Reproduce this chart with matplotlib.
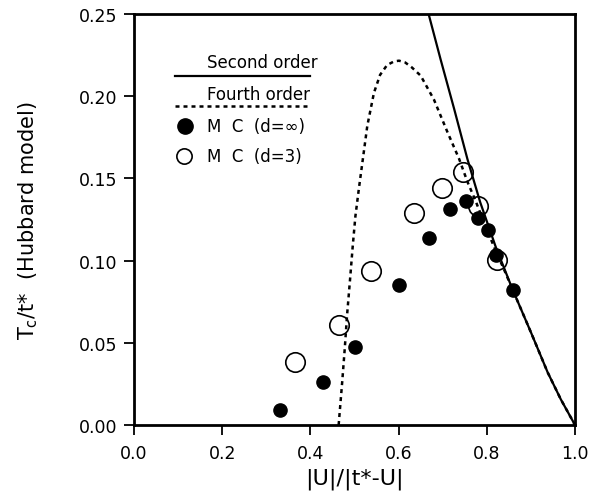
import numpy as np
import matplotlib.pyplot as plt
from matplotlib.lines import Line2D

# second order curve
x_second = [0.668, 0.695, 0.726, 0.756, 0.785, 0.820, 0.858, 0.900, 0.938, 0.968, 1.0]
tc_second = [0.250, 0.2226, 0.1922, 0.1618, 0.1355, 0.1085, 0.0827, 0.0564, 0.032, 0.0155, 0.0]

# fourth order curve
x_fourth = [0.464, 0.468, 0.472, 0.478, 0.483, 0.490, 0.496, 0.502, 0.510, 0.517, 0.529, 0.544, 0.558, 0.574, 0.590,
            0.601, 0.615, 0.630, 0.650, 0.680, 0.711, 0.737, 0.756, 0.775, 0.794, 0.820, 0.840, 0.858, 0.900, 0.938,
            0.968, 1.0]
tc_fourth = [0.0, 0.013, 0.026, 0.047, 0.0665, 0.089, 0.109, 0.127, 0.144, 0.158, 0.182, 0.202, 0.213, 0.219, 0.2212,
             0.2216, 0.2205, 0.2175, 0.2125, 0.198, 0.178, 0.162, 0.148, 0.136, 0.123, 0.106, 0.094, 0.0827, 0.0564,
             0.032, 0.0155, 0.0]

# Monte Carlo d = infinity
x_mc_inf = [0.332, 0.429, 0.501, 0.602, 0.669, 0.716, 0.752, 0.779, 0.802, 0.820, 0.859]
tc_mc_inf = [0.009, 0.026, 0.0476, 0.0854, 0.1136, 0.1314, 0.1365, 0.1257, 0.1186, 0.1034, 0.0819]

# Monte Carlo d = 3
x_mc_3 = [0.366, 0.464, 0.538, 0.635, 0.699, 0.745, 0.779, 0.824]
tc_mc_3 = [0.0385, 0.0610, 0.0937, 0.1288, 0.1444, 0.1537, 0.1330, 0.1004]

plt.rcParams['font.family'] = ['DejaVu Sans']

fig = plt.figure(figsize=(5.92, 5.02), dpi=100)
ax = fig.add_axes([0.2264, 0.1514, 0.7449, 0.8187])

ax.plot(x_second, tc_second, color='black', lw=1.6, solid_capstyle='butt')
ax.plot(x_fourth, tc_fourth, color='black', lw=1.8, linestyle=(0, (1.6, 1.6)))
ax.plot(x_mc_inf, tc_mc_inf, 'o', color='black', ms=9.5, zorder=4)
ax.plot(x_mc_3, tc_mc_3, 'o', mfc='none', mec='black', mew=1.2, ms=14, zorder=5)

ax.set_xlim(0, 1.0)
ax.set_ylim(0, 0.25)
ax.set_xticks(np.arange(0, 1.01, 0.2))
ax.set_yticks(np.arange(0, 0.251, 0.05))
ax.xaxis.set_major_formatter(plt.FormatStrFormatter('%.1f'))
ax.yaxis.set_major_formatter(plt.FormatStrFormatter('%.2f'))
ax.tick_params(direction='out', length=7, width=1.3, labelsize=12.5, pad=5)
ax.tick_params(axis='x', pad=7)
for s in ax.spines.values():
    s.set_linewidth(2)

ax.set_xlabel('|U|/|t*-U|', fontsize=16, labelpad=4)
ax.set_ylabel(r'T$_\mathregular{c}$/t*  (Hubbard model)', fontsize=15, labelpad=28)

# hand made legend
tr = ax.transAxes
ax.text(0.166, 0.8825, 'Second order', transform=tr, fontsize=12, va='center')
ax.add_line(Line2D([0.093, 0.399], [0.850, 0.850], transform=tr, color='black', lw=1.6))
ax.text(0.166, 0.805, 'Fourth order', transform=tr, fontsize=12, va='center')
ax.add_line(Line2D([0.093, 0.392], [0.775, 0.775], transform=tr, color='black', lw=1.8,
                   linestyle=(0, (1.6, 1.6))))
ax.plot([0.116], [0.728], 'o', color='black', ms=11, transform=tr)
ax.text(0.165, 0.728, 'M  C  (d=\u221e)', transform=tr, fontsize=12, va='center')
ax.plot([0.114], [0.655], 'o', mfc='none', mec='black', mew=1.2, ms=11, transform=tr)
ax.text(0.165, 0.655, 'M  C  (d=3)', transform=tr, fontsize=12, va='center')

fig.savefig('out.png', dpi=100)
